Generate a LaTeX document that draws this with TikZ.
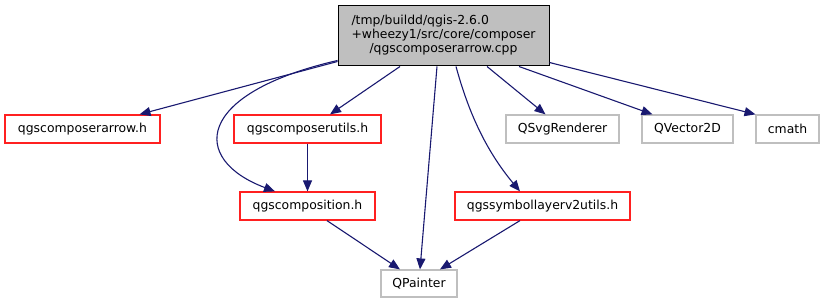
\documentclass[tikz,border=0pt]{standalone}
\usepackage{fontspec}
\setmainfont{DejaVu Sans}
\usetikzlibrary{arrows.meta,calc}
\definecolor{edgeblue}{HTML}{191970}
\definecolor{boxgray}{HTML}{BFBFBF}
\definecolor{boxred}{HTML}{FF2020}
\begin{document}
\begin{tikzpicture}[x=1pt,y=-1pt,
  font=\fontsize{12.4}{14}\selectfont,
  box/.style={draw, line width=1.2pt, inner sep=0pt, minimum height=28pt, anchor=center},
  redbox/.style={box, draw=boxred},
  graybox/.style={box, draw=boxgray},
  dep/.style={draw=edgeblue, line width=1.1pt, -{Triangle[length=11pt,width=9pt]}, fill=none}]
\useasboundingbox (0,0) rectangle (824,304);

% source file
\node[draw=black, fill=boxgray, line width=1pt, inner sep=0pt,
      minimum width=211pt, minimum height=60pt] (main) at (443.5,36)
  {\begin{tabular}{@{}l@{}}/tmp/buildd/qgis-2.6.0\\+wheezy1/src/core/composer\\\multicolumn{1}{@{}c@{}}{/qgscomposerarrow.cpp}\end{tabular}};

% included headers
\node[redbox, minimum width=155pt] (arrowh) at (82.5,129) {qgscomposerarrow.h};
\node[redbox, minimum width=147pt] (utils) at (307.5,129) {qgscomposerutils.h};
\node[graybox, minimum width=113pt] (svg) at (562.5,129) {QSvgRenderer};
\node[graybox, minimum width=91pt] (vec) at (687.5,129) {QVector2D};
\node[graybox, minimum width=63pt] (cmath) at (787.5,129) {cmath};
\node[redbox, minimum width=135pt] (comp) at (307.5,206) {qgscomposition.h};
\node[redbox, minimum width=175pt] (sym) at (542.5,206) {qgssymbollayerv2utils.h};
\node[graybox, minimum width=76pt, minimum height=27pt] (painter) at (419,283.5) {QPainter};

% dependencies
\draw[dep] ([yshift=5pt]main.south west) -- ([xshift=57pt]arrowh.north);
\draw[dep] ([yshift=6pt]main.south west) .. controls ++(-143,33) and ++(-85,-32) .. ([xshift=-32.5pt]comp.north);
\draw[dep] ([xshift=-43.5pt]main.south) -- ([xshift=22.5pt]utils.north);
\draw[dep] ([xshift=-6.5pt]main.south) -- ([xshift=1pt]painter.north);
\draw[dep] ([xshift=12.5pt]main.south) .. controls ++(12,44) and ++(-35,-42) .. ([xshift=-22.5pt]sym.north);
\draw[dep] ([xshift=43.5pt]main.south) -- ([xshift=-17pt]svg.north);
\draw[dep] ([xshift=75.5pt]main.south) -- ([xshift=-35pt]vec.north);
\draw[dep] ([yshift=4pt]main.south east) -- ([xshift=-32pt]cmath.north);
\draw[dep] (utils.south) -- (comp.north);
\draw[dep] ([xshift=19.5pt]comp.south) -- ([xshift=-19pt]painter.north);
\draw[dep] ([xshift=-22.5pt]sym.south) -- ([xshift=21pt]painter.north);
\end{tikzpicture}
\end{document}
